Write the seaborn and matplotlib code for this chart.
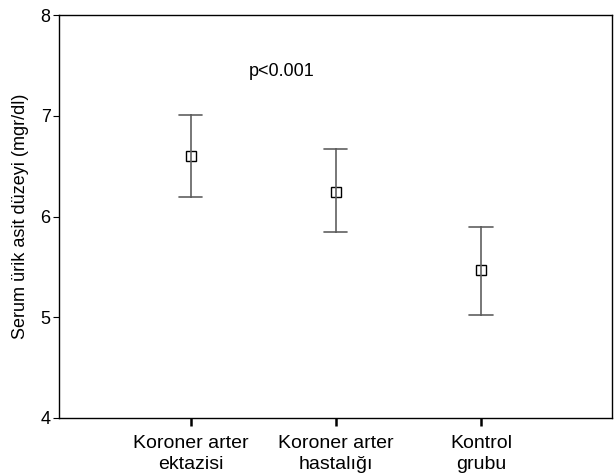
import pandas as pd
import seaborn as sns
import matplotlib.pyplot as plt

groups = ['Koroner arter\nektazisi', 'Koroner arter\nhastalığı', 'Kontrol\ngrubu']
means = [6.60, 6.24, 5.47]
lower = [6.19, 5.85, 5.02]
upper = [7.01, 6.67, 5.90]

# long table: lower / mean / upper per group, median gives the mean, min-max the bar
rows = []
for g, lo, m, hi in zip(groups, lower, means, upper):
    for v in (lo, m, hi):
        rows.append({'grup': g, 'deger': v})
df = pd.DataFrame(rows)

sns.set_style('white')
plt.rcParams['font.family'] = ['Liberation Sans', 'DejaVu Sans']
plt.rcParams['text.color'] = 'black'
plt.rcParams['axes.labelcolor'] = 'black'
plt.rcParams['xtick.color'] = 'black'
plt.rcParams['ytick.color'] = 'black'

fig = plt.figure(figsize=(6.14, 4.75), dpi=100)
ax = fig.add_axes([0.0961, 0.12, 0.900, 0.848])

sns.pointplot(data=df, x='grup', y='deger', order=groups,
              estimator='median', errorbar=lambda v: (v.min(), v.max()),
              linestyle='none', marker='s', markersize=7.5,
              markerfacecolor='white', markeredgecolor='black', markeredgewidth=1,
              color='#606060', capsize=0.16, err_kws={'linewidth': 1.2},
              ax=ax)

ax.set_xlim(-0.907, 2.9)
ax.set_ylim(4, 8)
ax.set_yticks([4, 5, 6, 7, 8])
ax.set_xlabel('')
ax.set_ylabel('Serum ürik asit düzeyi (mgr/dl)', fontsize=13, labelpad=8)
ax.text(0.4, 7.40, 'p<0.001', fontsize=13)

for s in ax.spines.values():
    s.set_visible(True)
    s.set_color('black')
    s.set_linewidth(1)
ax.tick_params(axis='y', direction='out', length=4, width=0.8, labelsize=13, pad=2, left=True)
ax.tick_params(axis='x', direction='out', length=6, width=1.8, labelsize=14, pad=6, bottom=True)
for lab in ax.get_xticklabels():
    lab.set_linespacing(1.3)

fig.savefig('out.png', dpi=100)
